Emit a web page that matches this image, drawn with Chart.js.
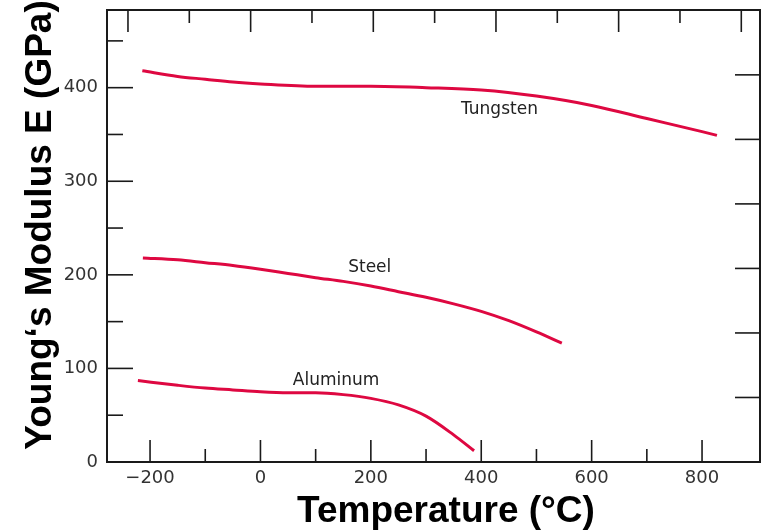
<!DOCTYPE html>
<html>
<head>
<meta charset="utf-8">
<script src="https://cdn.jsdelivr.net/npm/chart.js@4/dist/chart.umd.min.js"></script>
<style>
  html, body { margin: 0; padding: 0; background: #fff; }
  #wrap { width: 763px; height: 532px; position: relative; }
</style>
</head>
<body>
<div id="wrap"><canvas id="chart"></canvas></div>
<script>
// ─── data (temperature °C → Young's modulus GPa) ────────────────────────────
const tungstenT = [-214, -150, -100, -50, 0, 100, 200, 300, 400, 500, 600, 700, 800, 827];
const tungstenE = [418, 412, 409, 406, 404, 401.5, 401.5, 400, 397.5, 391, 381, 367, 353, 349];

const steelT = [-213, -150, -100, -50, 0, 50, 100, 150, 200, 250, 300, 350, 400, 450, 500, 546];
const steelE = [218, 216, 213, 210, 206, 201.5, 197, 193, 188, 182, 176, 169, 161, 151, 139, 127];

const aluminumT = [-222, -150, -100, -50, 0, 50, 100, 150, 200, 250, 300, 350, 387];
const aluminumE = [87, 82, 79, 77, 75, 74, 74, 72, 68, 61, 49, 29, 12];

// ─── axis ticks ─────────────────────────────────────────────────────────────
const xTickLabels = [-200, 0, 200, 400, 600, 800];
const xMinorTicks = [-100, 100, 300, 500, 700];
const yTickLabels = [0, 100, 200, 300, 400];
const yMinorTicks = [50, 150, 250, 350, 450];
const topMajorF = [-400, 0, 400, 800, 1200, 1600];   // °F ticks on the top edge
const topMinorF = [-200, 200, 600, 1000, 1400];
const rightTicksMpsi = [10, 20, 30, 40, 50, 60];      // 10^6 psi ticks on the right edge

// curve labels, anchored in data units
const curveLabels = [
  { text: 'Tungsten', x: 433, y: 376.5 },
  { text: 'Steel', x: 198, y: 207.5 },
  { text: 'Aluminum', x: 137, y: 87.5 },
];

const LINE = '#DE0841';
const pts = (xs, ys) => xs.map((x, i) => ({ x, y: ys[i] }));

// ─── frame, inward ticks, titles ────────────────────────────────────────────
const decor = {
  id: 'decor',
  afterDraw(c) {
    const { ctx, chartArea: a, scales } = c;
    const sx = scales.x, sy = scales.y;
    ctx.save();
    ctx.strokeStyle = '#1a1a1a';
    ctx.lineWidth = 2;
    ctx.strokeRect(a.left, a.top, a.right - a.left, a.bottom - a.top);

    ctx.lineWidth = 1.6;
    const vtick = (px, y0, len) => {
      ctx.beginPath(); ctx.moveTo(px, y0); ctx.lineTo(px, y0 + len); ctx.stroke();
    };
    const htick = (py, x0, len) => {
      ctx.beginPath(); ctx.moveTo(x0, py); ctx.lineTo(x0 + len, py); ctx.stroke();
    };
    xTickLabels.forEach((v) => vtick(sx.getPixelForValue(v), a.bottom, -22));
    xMinorTicks.forEach((v) => vtick(sx.getPixelForValue(v), a.bottom, -13));
    const f2c = (f) => (f - 32) * 5 / 9;
    topMajorF.forEach((f) => vtick(sx.getPixelForValue(f2c(f)), a.top, 22));
    topMinorF.forEach((f) => vtick(sx.getPixelForValue(f2c(f)), a.top, 13));
    yTickLabels.forEach((v) => htick(sy.getPixelForValue(v), a.left, 26));
    yMinorTicks.forEach((v) => htick(sy.getPixelForValue(v), a.left, 16));
    rightTicksMpsi.forEach((m) => htick(sy.getPixelForValue(m * 6.895), a.right, -25));

    // curve labels
    ctx.fillStyle = '#222';
    ctx.font = '17px "DejaVu Sans", sans-serif';
    ctx.textAlign = 'center';
    ctx.textBaseline = 'middle';
    curveLabels.forEach((l) => {
      ctx.fillText(l.text, sx.getPixelForValue(l.x), sy.getPixelForValue(l.y));
    });

    // axis titles
    ctx.fillStyle = '#000';
    ctx.font = 'bold 37px "Liberation Sans", Arial, sans-serif';
    ctx.textBaseline = 'alphabetic';
    ctx.fillText('Temperature (°C)', 446, 522);
    ctx.translate(51, 225);
    ctx.rotate(-Math.PI / 2);
    ctx.fillText('Young‘s Modulus E (GPa)', 0, 0);
    ctx.restore();
  },
};

const tickFont = { family: '"DejaVu Sans", sans-serif', size: 18 };

new Chart(document.getElementById('chart'), {
  type: 'line',
  data: {
    datasets: [
      { label: 'Tungsten', data: pts(tungstenT, tungstenE) },
      { label: 'Steel', data: pts(steelT, steelE) },
      { label: 'Aluminum', data: pts(aluminumT, aluminumE) },
    ].map((d) => ({
      ...d,
      borderColor: LINE,
      borderWidth: 3,
      pointRadius: 0,
      cubicInterpolationMode: 'monotone',
      fill: false,
    })),
  },
  options: {
    responsive: true,
    maintainAspectRatio: false,
    animation: false,
    layout: { padding: { top: 10, right: 3, left: 0, bottom: 0 } },
    plugins: { legend: { display: false }, tooltip: { enabled: false } },
    scales: {
      x: {
        type: 'linear',
        min: -278,
        max: 905,
        afterBuildTicks: (s) => { s.ticks = xTickLabels.map((value) => ({ value })); },
        afterFit: (s) => { s.height = 70; s.paddingLeft = 0; s.paddingRight = 0; },
        grid: { display: false, drawTicks: false },
        border: { display: false },
        ticks: {
          color: '#333',
          font: tickFont,
          padding: 6,
          maxRotation: 0,
          callback: (v) => (v < 0 ? '\u2212' + Math.abs(v) : String(v)),
        },
      },
      y: {
        type: 'linear',
        min: 0,
        max: 483,
        afterBuildTicks: (s) => { s.ticks = yTickLabels.map((value) => ({ value })); },
        afterFit: (s) => { s.width = 107; s.paddingTop = 0; s.paddingBottom = 0; },
        grid: { display: false, drawTicks: false },
        border: { display: false },
        ticks: { color: '#333', font: tickFont, padding: 9 },
      },
    },
  },
  plugins: [decor],
});
</script>
</body>
</html>
